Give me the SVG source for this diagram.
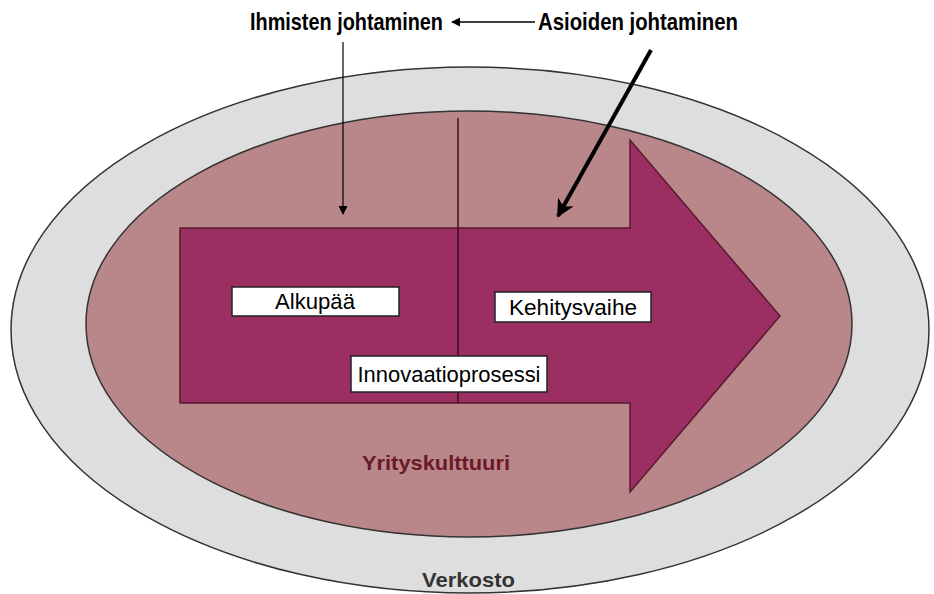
<svg xmlns="http://www.w3.org/2000/svg" width="934" height="594" viewBox="0 0 934 594">
<style>
.lbl{font-family:"Liberation Sans",Arial,sans-serif;font-size:22px;fill:#000;text-anchor:middle}
.box{fill:#fff;stroke:#222;stroke-width:1.5}
.title{font-family:"Liberation Sans",Arial,sans-serif;font-weight:bold;font-size:24px;fill:#000}
.conn{stroke:#000;fill:none}
</style>
<defs>
<marker id="ah" viewBox="0 0 10 10" refX="9" refY="5" markerWidth="9" markerHeight="9" orient="auto" markerUnits="userSpaceOnUse">
<path d="M0,0 L10,5 L0,10 z" fill="#000"/>
</marker>
<marker id="ahb" viewBox="0 0 10 10" refX="9" refY="5" markerWidth="18" markerHeight="18" orient="auto" markerUnits="userSpaceOnUse">
<path d="M0,0 L10,5 L0,10 L3,5 z" fill="#000"/>
</marker>
</defs>
<rect width="934" height="594" fill="#fff"/>
<g id="verkosto">
<ellipse cx="470" cy="330" rx="459" ry="263" fill="#dedede" stroke="#333" stroke-width="1.5"/>
<text x="422" y="587" font-family="'Liberation Sans',Arial,sans-serif" font-weight="bold" font-size="21" fill="#333" textLength="93" lengthAdjust="spacingAndGlyphs">Verkosto</text>
</g>
<g id="yrityskulttuuri">
<ellipse cx="469" cy="324" rx="383" ry="213" fill="#b9878a" stroke="#333" stroke-width="1.5"/>
<text x="362" y="470" font-family="'Liberation Sans',Arial,sans-serif" font-weight="bold" font-size="21" fill="#6b1828" textLength="148" lengthAdjust="spacingAndGlyphs">Yrityskulttuuri</text>
</g>
<g id="innovaatioprosessi-arrow">
<path d="M180,228 L630,228 L630,140 L780,316 L630,492 L630,403 L180,403 Z" fill="#9b2f62" stroke="#5a1a30" stroke-width="1.5"/>
<line x1="458" y1="118" x2="458" y2="403" stroke="#3a0f1f" stroke-width="1.5"/>
</g>
<g id="alkupaa">
<rect class="box" x="232" y="287" width="167" height="29"/>
<text class="lbl" x="315" y="309" textLength="80" lengthAdjust="spacingAndGlyphs">Alkupää</text>
</g>
<g id="kehitysvaihe">
<rect class="box" x="495" y="292" width="156" height="30"/>
<text class="lbl" x="573" y="315" textLength="128" lengthAdjust="spacingAndGlyphs">Kehitysvaihe</text>
</g>
<g id="innovaatioprosessi">
<rect class="box" x="351" y="356" width="196" height="36"/>
<text class="lbl" x="449" y="382" textLength="183" lengthAdjust="spacingAndGlyphs">Innovaatioprosessi</text>
</g>
<g id="ihmisten">
<text class="title" x="250" y="30" textLength="193" lengthAdjust="spacingAndGlyphs">Ihmisten johtaminen</text>
</g>
<g id="asioiden">
<text class="title" x="538" y="30" textLength="200" lengthAdjust="spacingAndGlyphs">Asioiden johtaminen</text>
</g>
<g id="connectors">
<line class="conn" x1="535" y1="22" x2="452" y2="22" stroke-width="1.5" marker-end="url(#ah)"/>
<line class="conn" x1="343" y1="42" x2="343" y2="214" stroke-width="1.2" marker-end="url(#ah)"/>
<line class="conn" x1="651" y1="50" x2="558" y2="216" stroke-width="4" marker-end="url(#ahb)"/>
</g>
</svg>
